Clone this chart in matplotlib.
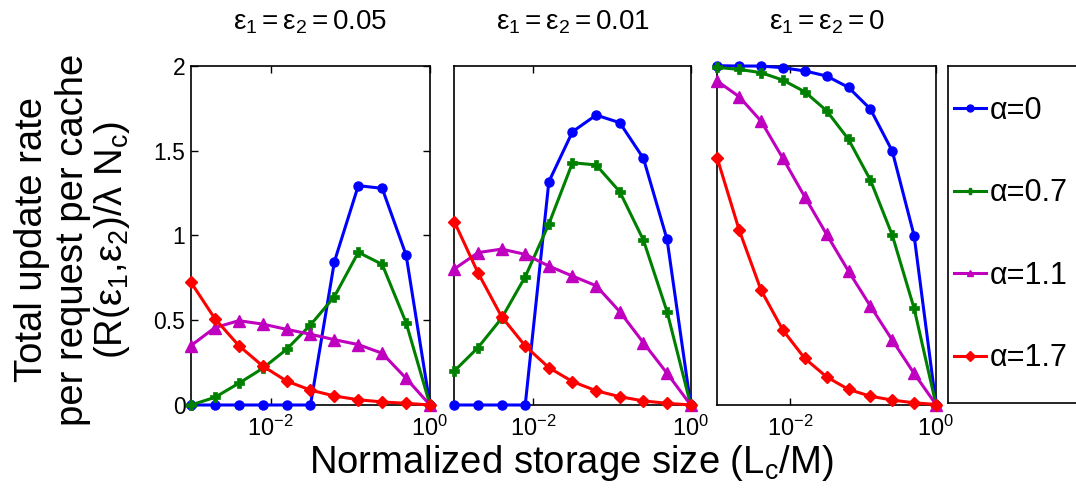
import matplotlib
matplotlib.use('Agg')
import matplotlib.pyplot as plt
from matplotlib.lines import Line2D

plt.rcParams['font.family'] = ['Liberation Sans', 'DejaVu Sans']
plt.rcParams['mathtext.fontset'] = 'custom'
plt.rcParams['mathtext.rm'] = 'Liberation Sans'
plt.rcParams['mathtext.it'] = 'Liberation Sans:italic'
plt.rcParams['mathtext.default'] = 'regular'

# ---------------- data ----------------
storage = [0.001, 0.001995, 0.003981, 0.007943, 0.01585, 0.03162,
           0.06310, 0.1259, 0.2512, 0.5012, 1.0]

panel_titles = [r'$\mathregular{ε_1=ε_2=0.05}$',
                r'$\mathregular{ε_1=ε_2=0.01}$',
                r'$\mathregular{ε_1=ε_2=0}$']
alpha_labels = ['α=0', 'α=0.7', 'α=1.1', 'α=1.7']

# eps1=eps2=0.05
eps005_a0 = [0, 0, 0, 0, 0, 0, 0.845, 1.293, 1.277, 0.884, 0]
eps005_a07 = [0, 0.045, 0.128, 0.216, 0.328, 0.472, 0.639, 0.900, 0.829, 0.485, 0]
eps005_a11 = [0.350, 0.456, 0.497, 0.477, 0.446, 0.417, 0.385, 0.356, 0.305, 0.157, 0]
eps005_a17 = [0.723, 0.509, 0.350, 0.230, 0.141, 0.088, 0.053, 0.031, 0.018, 0.010, 0]

# eps1=eps2=0.01
eps001_a0 = [0, 0, 0, 0, 1.316, 1.611, 1.709, 1.664, 1.454, 0.976, 0]
eps001_a07 = [0.200, 0.338, 0.511, 0.756, 1.067, 1.428, 1.415, 1.257, 0.972, 0.550, 0]
eps001_a11 = [0.802, 0.898, 0.919, 0.888, 0.819, 0.760, 0.703, 0.550, 0.367, 0.187, 0]
eps001_a17 = [1.081, 0.780, 0.521, 0.348, 0.220, 0.138, 0.084, 0.049, 0.024, 0.010, 0]

# eps1=eps2=0
eps0_a0 = [2.0, 1.998, 1.998, 1.988, 1.969, 1.939, 1.872, 1.744, 1.496, 0.996, 0]
eps0_a07 = [1.990, 1.978, 1.959, 1.915, 1.846, 1.734, 1.565, 1.325, 1.000, 0.567, 0]
eps0_a11 = [1.909, 1.817, 1.673, 1.453, 1.226, 1.004, 0.787, 0.581, 0.380, 0.183, 0]
eps0_a17 = [1.453, 1.030, 0.675, 0.439, 0.272, 0.163, 0.089, 0.049, 0.026, 0.010, 0]

panels = [[eps005_a0, eps005_a07, eps005_a11, eps005_a17],
          [eps001_a0, eps001_a07, eps001_a11, eps001_a17],
          [eps0_a0, eps0_a07, eps0_a11, eps0_a17]]

ytick_vals = [0, 0.5, 1, 1.5, 2]
ytick_labels = ['0', '0.5', '1', '1.5', '2']
xtick_vals = [1e-2, 1e0]
xtick_labels = [r'$\mathregular{10^{-2}}$', r'$\mathregular{10^{0}}$']

# ---------------- style ----------------
colors = ['#0000ff', '#008000', '#bf00bf', '#ff0000']
markers = ['o', 'P', '^', 'D']
msizes = [6.5, 7.5, 8.5, 6]

W, H = 1076, 493
fig = plt.figure(figsize=(W / 100, H / 100), dpi=100)

def frac(l, r, t, b):
    return [l / W, (H - b) / H, (r - l) / W, (b - t) / H]

boxes = [frac(191, 430, 65.7, 405), frac(454.3, 690.7, 65.7, 405),
         frac(717.3, 936, 65.7, 404.5)]

axes = []
for i, (box, series) in enumerate(zip(boxes, panels)):
    ax = fig.add_axes(box)
    for ys, c, m, ms in zip(series, colors, markers, msizes):
        ax.plot(storage, ys, color=c, marker=m, markersize=ms, lw=2.2,
                markeredgewidth=1.0 if m != 'P' else 0.5, clip_on=False, zorder=3)
    ax.set_xscale('log')
    ax.set_xlim(1e-3, 1e0)
    ax.set_ylim(0, 2)
    ax.set_xticks(xtick_vals)
    ax.set_xticklabels(xtick_labels)
    ax.xaxis.set_minor_locator(matplotlib.ticker.NullLocator())
    if i == 0:
        ax.set_yticks(ytick_vals)
        ax.set_yticklabels(ytick_labels)
    else:
        ax.set_yticks([])
    ax.tick_params(axis='both', direction='in', length=5, width=1, top=True,
                   right=True, colors='black')
    ax.tick_params(axis='x', pad=8, labelsize=17)
    ax.tick_params(axis='y', pad=4, labelsize=16.5)
    for s in ax.spines.values():
        s.set_linewidth(1.2)
    ax.set_title(panel_titles[i], fontsize=20, pad=26)
    axes.append(ax)

# legend box
lax = fig.add_axes(frac(948, 1100, 66, 403))
lax.set_xticks([])
lax.set_yticks([])
for s in lax.spines.values():
    s.set_linewidth(1.2)
handles = [Line2D([], [], color=c, marker=m, markersize=5, lw=2.2)
           for c, m in zip(colors, ['o', 'P', '^', 'D'])]
lax.legend(handles, alpha_labels, loc='center left', bbox_to_anchor=(6 / 152, 0.5),
           frameon=False, fontsize=22, handlelength=1.05, handletextpad=0.12,
           labelspacing=1.72, borderpad=0, borderaxespad=0)

# y label (three lines)
ylab_lines = ['Total update rate', 'per request per cache',
              r'(R($\mathregular{ε_1{,}ε_2}$)/λ N$\mathregular{_c}$)']
ylab_x = [42, 83, 122]
for txt, xb in zip(ylab_lines, ylab_x):
    fig.text(xb / W, 1 - 240 / H, txt, rotation=90, rotation_mode='anchor',
             ha='center', va='baseline', fontsize=27.5)

fig.text(571 / W, 1 - 473 / H, r'Normalized storage size (L$\mathregular{_c}$/M)',
         ha='center', va='baseline', fontsize=27.5)

fig.savefig('out.png', dpi=100)
